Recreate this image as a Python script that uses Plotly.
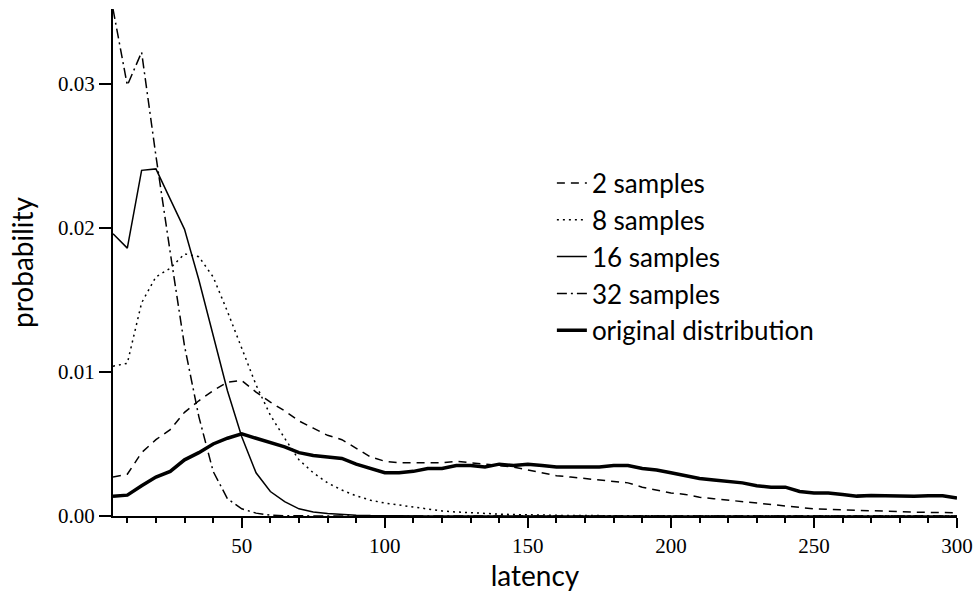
import plotly.graph_objects as go

latency = list(range(5, 305, 5))

s2 = [0.0027, 0.0029, 0.0044, 0.0053, 0.0060, 0.0072, 0.0080, 0.0087, 0.0093, 0.0094,
      0.0086, 0.0079, 0.0073, 0.0066, 0.0061, 0.0056, 0.0053, 0.0047, 0.0041, 0.0038,
      0.0037, 0.0037, 0.0037, 0.0037, 0.0038, 0.0037, 0.0036, 0.0035, 0.0034, 0.0032,
      0.0030, 0.0028, 0.0027, 0.0026, 0.0025, 0.0024, 0.0023, 0.0020, 0.0018, 0.0016,
      0.0015, 0.0013, 0.0012, 0.0011, 0.0010, 0.0009, 0.0008, 0.0007, 0.0006, 0.0005,
      0.00046, 0.00042, 0.00038, 0.00035, 0.00032, 0.00029, 0.00027, 0.00025, 0.00024, 0.00023]

s8 = [0.0104, 0.0106, 0.0148, 0.0166, 0.0172, 0.0182, 0.0180, 0.0166, 0.0142, 0.0116,
      0.0091, 0.0070, 0.0054, 0.0039, 0.0030, 0.0023, 0.0018, 0.0014, 0.0011, 0.0009,
      0.00075, 0.0006, 0.00046, 0.00035, 0.00028, 0.00022, 0.00018, 0.00013, 0.0001, 0.00007,
      0.00005, 0.00004, 0.00003, 0.00003, 0.00002, 0.00002, 0.00001, 0.00001, 0.00001, 0.00001,
      0, 0, 0, 0, 0, 0, 0, 0, 0, 0,
      0, 0, 0, 0, 0, 0, 0, 0, 0, 0]

s16 = [0.0196, 0.0186, 0.0240, 0.0241, 0.0220, 0.0199, 0.0164, 0.0126, 0.0087, 0.0055,
       0.0030, 0.0017, 0.0010, 0.0005, 0.00028, 0.00017, 0.0001, 0.00006, 0.00003, 0.00001,
       0, 0, 0, 0, 0, 0, 0, 0, 0, 0,
       0, 0, 0, 0, 0, 0, 0, 0, 0, 0,
       0, 0, 0, 0, 0, 0, 0, 0, 0, 0,
       0, 0, 0, 0, 0, 0, 0, 0, 0, 0]

s32 = [0.0352, 0.0299, 0.0322, 0.0250, 0.0183, 0.0118, 0.0069, 0.0031, 0.0012, 0.0005,
       0.0002, 0.00006, 0.00002, 0, 0, 0, 0, 0, 0, 0,
       0, 0, 0, 0, 0, 0, 0, 0, 0, 0,
       0, 0, 0, 0, 0, 0, 0, 0, 0, 0,
       0, 0, 0, 0, 0, 0, 0, 0, 0, 0,
       0, 0, 0, 0, 0, 0, 0, 0, 0, 0]

orig = [0.00137, 0.00145, 0.0021, 0.0027, 0.0031, 0.0039, 0.0044, 0.0050, 0.0054, 0.0057,
        0.0054, 0.0051, 0.0048, 0.0044, 0.0042, 0.0041, 0.0040, 0.0036, 0.0033, 0.0030,
        0.0030, 0.0031, 0.0033, 0.0033, 0.0035, 0.0035, 0.0034, 0.0036, 0.0035, 0.0036,
        0.0035, 0.0034, 0.0034, 0.0034, 0.0034, 0.0035, 0.0035, 0.0033, 0.0032, 0.0030,
        0.0028, 0.0026, 0.0025, 0.0024, 0.0023, 0.0021, 0.0020, 0.0020, 0.0017, 0.0016,
        0.0016, 0.0015, 0.00138, 0.00143, 0.0014, 0.00137, 0.00137, 0.0014, 0.0014, 0.00125]

series_names = ["2 samples", "8 samples", "16 samples", "32 samples", "original distribution"]
series_values = [s2, s8, s16, s32, orig]
series_dash = ["8px,6px", "2px,4px", "solid", "10px,4px,2px,4px", "solid"]
series_width = [1.5, 1.5, 1.5, 1.5, 3.5]

fig = go.Figure()
for name, vals, dash, w in zip(series_names, series_values, series_dash, series_width):
    fig.add_trace(go.Scatter(
        x=latency, y=vals, mode="lines", name=name,
        line=dict(color="black", width=w, dash=dash),
        cliponaxis=False,
    ))

tick_font = dict(family="Liberation Serif", size=21, color="black")
title_font = dict(family="Lato", size=28, color="black")

fig.update_layout(
    width=974, height=594,
    margin=dict(l=113, r=17, t=9, b=78),
    paper_bgcolor="white", plot_bgcolor="white",
    showlegend=True,
    legend=dict(
        x=0.52, y=0.703, xanchor="left", yanchor="top",
        font=dict(family="Lato", size=26, color="black"),
        bgcolor="rgba(0,0,0,0)", borderwidth=0,
        itemwidth=30, tracegroupgap=0,
    ),
    xaxis=dict(
        range=[5, 300], showgrid=False, zeroline=False, automargin=False,
        showline=True, linecolor="black", linewidth=2,
        ticks="outside", ticklen=10, tickwidth=2, tickcolor="black",
        tick0=0, dtick=50, tickfont=tick_font,
        minor=dict(dtick=10, tick0=0, ticks="outside", ticklen=5, tickwidth=1.5, tickcolor="black"),
        title=dict(text="latency", font=title_font, standoff=3),
    ),
    yaxis=dict(
        range=[0, 0.0352], showgrid=False, zeroline=False, automargin=False,
        showline=True, linecolor="black", linewidth=2,
        ticks="outside", ticklen=12, tickwidth=2, tickcolor="black",
        tickvals=[0, 0.01, 0.02, 0.03], tickformat=".2f", tickfont=tick_font,
        title=dict(text="probability", font=title_font, standoff=16),
    ),
)

fig.write_html("out.html")
